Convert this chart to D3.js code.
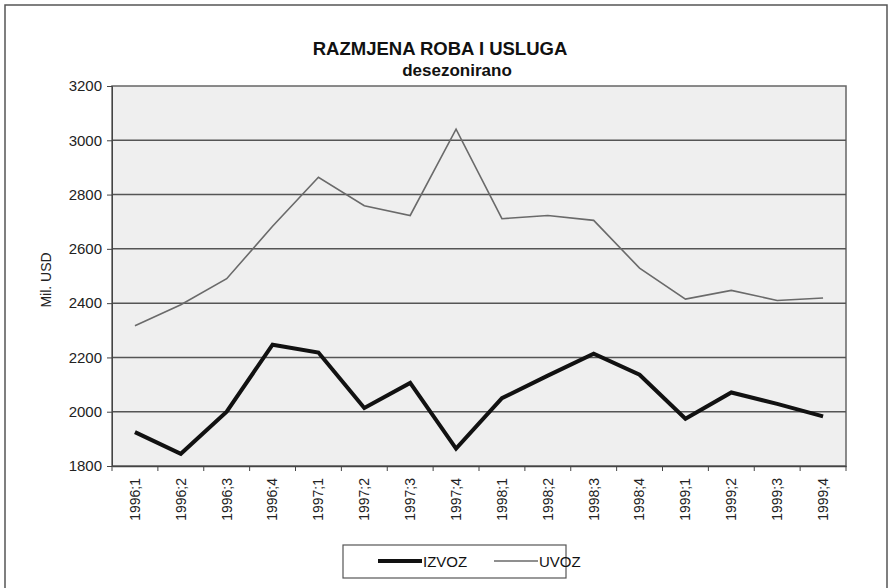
<!DOCTYPE html>
<html>
<head>
<meta charset="utf-8">
<script src="https://cdn.jsdelivr.net/npm/d3@7"></script>
<style>
  body { margin: 0; background: #fff; }
  svg { font-family: "Liberation Sans", Arial, sans-serif; }
</style>
</head>
<body>
<div id="chart"></div>
<script>
const WIDTH = 889;
const HEIGHT = 588;
const MARGIN = { TOP: 86, RIGHT: 43, BOTTOM: 122, LEFT: 112 };
const PW = WIDTH - MARGIN.LEFT - MARGIN.RIGHT;
const PH = HEIGHT - MARGIN.TOP - MARGIN.BOTTOM;

// data
const categories = ["1996;1", "1996;2", "1996;3", "1996;4", "1997;1", "1997;2", "1997;3", "1997;4",
    "1998;1", "1998;2", "1998;3", "1998;4", "1999;1", "1999;2", "1999;3", "1999;4"];
const izvoz = [1925, 1845, 2000, 2247, 2218, 2014, 2106, 1864, 2050, 2133, 2214, 2136, 1974, 2071, 2029, 1983];
const uvoz = [2317, 2394, 2490, 2683, 2864, 2759, 2723, 3041, 2711, 2723, 2705, 2529, 2415, 2447, 2410, 2419];
const yTicks = [1800, 2000, 2200, 2400, 2600, 2800, 3000, 3200];

const svg = d3.select("#chart").append("svg")
    .attr("width", WIDTH)
    .attr("height", HEIGHT);

// outer frame
svg.append("rect")
    .attr("x", 5).attr("y", 5)
    .attr("width", 882).attr("height", 600)
    .attr("fill", "#fff")
    .attr("stroke", "#555")
    .attr("stroke-width", 1.5);

svg.append("text")
    .attr("x", 440).attr("y", 55)
    .attr("text-anchor", "middle")
    .attr("font-size", 18.5).attr("font-weight", "bold")
    .attr("fill", "#111")
    .text("RAZMJENA ROBA I USLUGA");
svg.append("text")
    .attr("x", 457).attr("y", 76)
    .attr("text-anchor", "middle")
    .attr("font-size", 17).attr("font-weight", "bold")
    .attr("fill", "#111")
    .text("desezonirano");

const g = svg.append("g")
    .attr("transform", `translate(${MARGIN.LEFT},${MARGIN.TOP})`);

const x = d3.scaleBand().domain(categories).range([0, PW]);
const y = d3.scaleLinear().domain([1800, 3200]).range([PH, 0]);

g.append("rect")
    .attr("width", PW).attr("height", PH)
    .attr("fill", "#efefef")
    .attr("stroke", "#666")
    .attr("stroke-width", 1.5);

// gridlines
g.append("g")
    .selectAll("line")
    .data(yTicks.slice(1, -1))
    .join("line")
    .attr("x1", 0).attr("x2", PW)
    .attr("y1", d => y(d)).attr("y2", d => y(d))
    .attr("stroke", "#555")
    .attr("stroke-width", 1.5);

// y axis
const yAxis = g.append("g")
    .call(d3.axisLeft(y).tickValues(yTicks).tickSize(5).tickPadding(5).tickFormat(d3.format("d")));
yAxis.selectAll("text").attr("font-size", 15).attr("fill", "#222").attr("font-family", "Liberation Sans, Arial, sans-serif");
yAxis.selectAll("line, path").attr("stroke", "#444");

// x axis, ticks between categories
const xAxis = g.append("g")
    .attr("transform", `translate(0,${PH})`)
    .call(d3.axisBottom(x).tickSize(0).tickPadding(0));
xAxis.select(".domain").attr("stroke", "#444").attr("stroke-width", 1.5);
xAxis.selectAll("text")
    .attr("font-size", 14)
    .attr("fill", "#222")
    .attr("font-family", "Liberation Sans, Arial, sans-serif")
    .attr("text-anchor", "end")
    .attr("dy", "0.35em")
    .attr("transform", "translate(0,12) rotate(-90)");
g.append("g")
    .selectAll("line")
    .data(d3.range(categories.length + 1))
    .join("line")
    .attr("x1", i => i * x.step()).attr("x2", i => i * x.step())
    .attr("y1", PH).attr("y2", PH + 5)
    .attr("stroke", "#444");

svg.append("text")
    .attr("transform", "translate(51,280) rotate(-90)")
    .attr("text-anchor", "middle")
    .attr("font-size", 14)
    .attr("fill", "#222")
    .text("Mil. USD");

const line = d3.line()
    .x((d, i) => x(categories[i]) + x.bandwidth() / 2)
    .y(d => y(d));

g.append("path")
    .datum(uvoz)
    .attr("d", line)
    .attr("fill", "none")
    .attr("stroke", "#6a6a6a")
    .attr("stroke-width", 1.6);

g.append("path")
    .datum(izvoz)
    .attr("d", line)
    .attr("fill", "none")
    .attr("stroke", "#111")
    .attr("stroke-width", 4)
    .attr("stroke-linejoin", "miter");

// legend
const legend = svg.append("g");
legend.append("rect")
    .attr("x", 343).attr("y", 545)
    .attr("width", 223).attr("height", 33)
    .attr("fill", "#fff")
    .attr("stroke", "#555")
    .attr("stroke-width", 1.2);
const items = [
    { name: "IZVOZ", color: "#111", w: 4, x0: 378 },
    { name: "UVOZ", color: "#6a6a6a", w: 1.6, x0: 494 },
];
items.forEach(it => {
    legend.append("line")
        .attr("x1", it.x0).attr("x2", it.x0 + 44)
        .attr("y1", 561).attr("y2", 561)
        .attr("stroke", it.color).attr("stroke-width", it.w);
    legend.append("text")
        .attr("x", it.x0 + 45).attr("y", 567)
        .attr("font-size", 15)
        .attr("fill", "#111")
        .text(it.name);
});
</script>
</body>
</html>
